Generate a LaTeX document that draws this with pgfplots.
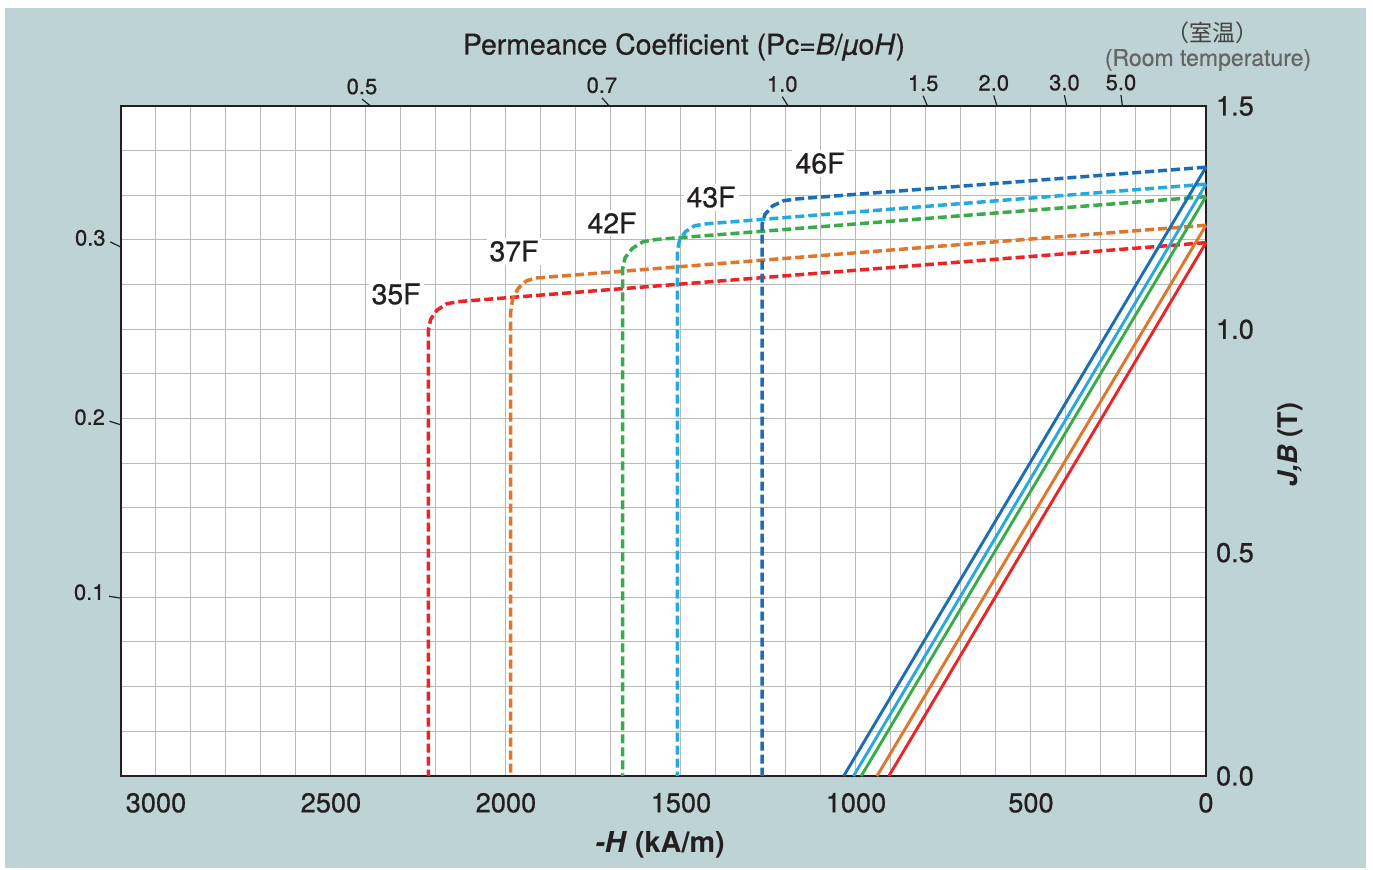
\documentclass[border=0pt]{standalone}
\usepackage{fontspec}
\setmainfont{TeX Gyre Heros}
\newfontfamily\medfont{TeX Gyre Heros}[FakeBold=0.6]
\newfontfamily\cjk{Noto Sans CJK JP}
\usepackage{pgfplots}
\pgfplotsset{compat=1.18}
\usetikzlibrary{calc}
\definecolor{bg}{RGB}{190,211,213}
\definecolor{txt}{RGB}{35,31,32}
\definecolor{gridc}{RGB}{185,185,185}
\definecolor{cred}{RGB}{236,36,38}
\definecolor{corange}{RGB}{224,117,44}
\definecolor{cgreen}{RGB}{58,170,74}
\definecolor{clblue}{RGB}{38,168,224}
\definecolor{cdblue}{RGB}{27,110,181}
\newcommand{\pcfont}{\medfont\fontsize{11}{13}\selectfont}
\begin{document}
\begin{tikzpicture}
\begin{scope}[shift={(-60.5pt,388pt)}, x=0.5pt, y=-0.5pt]
\fill[white] (0,0) rectangle (1373,870);
\fill[bg] (5,8) rectangle (1366,868);
\node[font=\medfont\fontsize{14.2}{17}\selectfont, text=txt] at (684,47) {Permeance Coefficient (Pc=\textit{B}/\textit{µ}o\textit{H})};
\node[font=\cjk\fontsize{11.5}{13}\selectfont, text=txt!85] at (1212,33) {（室温）};
\node[font=\medfont\fontsize{11.5}{13}\selectfont, text=black!60] at (1208,60) {(Room temperature)};
\node[font=\bfseries\fontsize{14.4}{17}\selectfont, text=txt] at (660,845) {\textit{-H} (kA/m)};
\node[font=\bfseries\fontsize{13.5}{16}\selectfont, text=txt, rotate=90] at (1290,445) {\textit{J,B} (T)};
\end{scope}
\begin{axis}[
  at={(0,0)}, anchor=south west,
  scale only axis, width=542.5pt, height=335pt,
  x dir=reverse, xmin=0, xmax=3100, ymin=0, ymax=1.5,
  clip=false,
  axis background/.style={fill=white},
  axis line style={line width=1pt, color=txt},
  xtick={0,500,...,3000}, minor x tick num=4,
  ytick={0,0.5,1,1.5}, minor y tick num=4,
  grid=both,
  major grid style={line width=0.5pt, color=gridc},
  minor grid style={line width=0.5pt, color=gridc},
  major tick length=0pt, minor tick length=0pt,
  yticklabel pos=right,
  /pgf/number format/assume math mode=true,
  tick label style={font=\medfont\fontsize{13.6}{16}\selectfont, text=txt},
  xticklabel style={yshift=-5pt, /pgf/number format/set thousands separator={}},
  yticklabel style={xshift=1.5pt, /pgf/number format/fixed, /pgf/number format/precision=1, /pgf/number format/fixed zerofill},
]
% intrinsic (J) curves, dashed
\addplot[cred, line width=1.75pt, dash pattern=on 4.5pt off 2pt, line join=round] coordinates {(0,1.194) (2137,1.062) (2169.6,1.057) (2197.1,1.043) (2215.5,1.022) (2222,0.997) (2222,0)};
\addplot[corange, line width=1.75pt, dash pattern=on 4.5pt off 2pt, line join=round] coordinates {(0,1.233) (1912,1.115) (1940.7,1.109) (1965,1.092) (1981.3,1.067) (1987,1.037) (1987,0)};
\addplot[cgreen, line width=1.75pt, dash pattern=on 4.5pt off 2pt, line join=round] coordinates {(0,1.297) (1572,1.201) (1608.4,1.196) (1639.2,1.181) (1659.8,1.160) (1667,1.134) (1667,0)};
\addplot[clblue, line width=1.75pt, dash pattern=on 4.5pt off 2pt, line join=round] coordinates {(0,1.325) (1430,1.236) (1460.6,1.232) (1486.6,1.219) (1503.9,1.200) (1510,1.178) (1510,0)};
\addplot[cdblue, line width=1.75pt, dash pattern=on 4.5pt off 2pt, line join=round] coordinates {(0,1.363) (1168,1.292) (1206.3,1.288) (1238.7,1.276) (1260.4,1.257) (1268,1.236) (1268,0)};
% normal (B) curves, solid
\addplot[cred, line width=1.45pt] coordinates {(0,1.194) (906,0)};
\addplot[corange, line width=1.45pt] coordinates {(0,1.233) (940,0)};
\addplot[cgreen, line width=1.45pt] coordinates {(0,1.297) (985,0)};
\addplot[clblue, line width=1.45pt] coordinates {(0,1.325) (1007,0)};
\addplot[cdblue, line width=1.45pt] coordinates {(0,1.363) (1035,0)};
% curve labels
\node[fill=white, inner sep=1.5pt, font=\medfont\fontsize{14.2}{16}\selectfont, text=txt] at (axis cs:2314,1.079) {35F};
\node[fill=white, inner sep=1.5pt, font=\medfont\fontsize{14.2}{16}\selectfont, text=txt] at (axis cs:1977,1.175) {37F};
\node[fill=white, inner sep=1.5pt, font=\medfont\fontsize{14.2}{16}\selectfont, text=txt] at (axis cs:1697,1.238) {42F};
\node[fill=white, inner sep=1.5pt, font=\medfont\fontsize{14.2}{16}\selectfont, text=txt] at (axis cs:1414,1.296) {43F};
\node[fill=white, inner sep=1.5pt, font=\medfont\fontsize{14.2}{16}\selectfont, text=txt] at (axis cs:1103,1.372) {46F};
% permeance coefficient ticks (top)
\draw[line width=0.6pt, txt] (axis cs:2387,1.5) -- ($(axis cs:2387,1.5)!-5.5pt!(axis cs:0,0)$) node[anchor=south, inner sep=2pt, font=\pcfont] {0.5};
\draw[line width=0.6pt, txt] (axis cs:1705,1.5) -- ($(axis cs:1705,1.5)!-5.5pt!(axis cs:0,0)$) node[anchor=south, inner sep=2pt, font=\pcfont] {0.7};
\draw[line width=0.6pt, txt] (axis cs:1194,1.5) -- ($(axis cs:1194,1.5)!-5.5pt!(axis cs:0,0)$) node[anchor=south, inner sep=2pt, font=\pcfont] {1.0};
\draw[line width=0.6pt, txt] (axis cs:796,1.5) -- ($(axis cs:796,1.5)!-5.5pt!(axis cs:0,0)$) node[anchor=south, inner sep=2pt, font=\pcfont] {1.5};
\draw[line width=0.6pt, txt] (axis cs:597,1.5) -- ($(axis cs:597,1.5)!-5.5pt!(axis cs:0,0)$) node[anchor=south, inner sep=2pt, font=\pcfont] {2.0};
\draw[line width=0.6pt, txt] (axis cs:398,1.5) -- ($(axis cs:398,1.5)!-5.5pt!(axis cs:0,0)$) node[anchor=south, inner sep=2pt, font=\pcfont] {3.0};
\draw[line width=0.6pt, txt] (axis cs:239,1.5) -- ($(axis cs:239,1.5)!-5.5pt!(axis cs:0,0)$) node[anchor=south, inner sep=2pt, font=\pcfont] {5.0};
% permeance coefficient ticks (left)
\draw[line width=0.6pt, txt] (axis cs:3100,0.398) -- ($(axis cs:3100,0.398)!-6pt!(axis cs:0,0)$) node[anchor=east, inner sep=2pt, yshift=2pt, font=\pcfont] {0.1};
\draw[line width=0.6pt, txt] (axis cs:3100,0.786) -- ($(axis cs:3100,0.786)!-6pt!(axis cs:0,0)$) node[anchor=east, inner sep=2pt, yshift=2pt, font=\pcfont] {0.2};
\draw[line width=0.6pt, txt] (axis cs:3100,1.184) -- ($(axis cs:3100,1.184)!-6pt!(axis cs:0,0)$) node[anchor=east, inner sep=2pt, yshift=2pt, font=\pcfont] {0.3};
\end{axis}
\end{tikzpicture}
\end{document}
